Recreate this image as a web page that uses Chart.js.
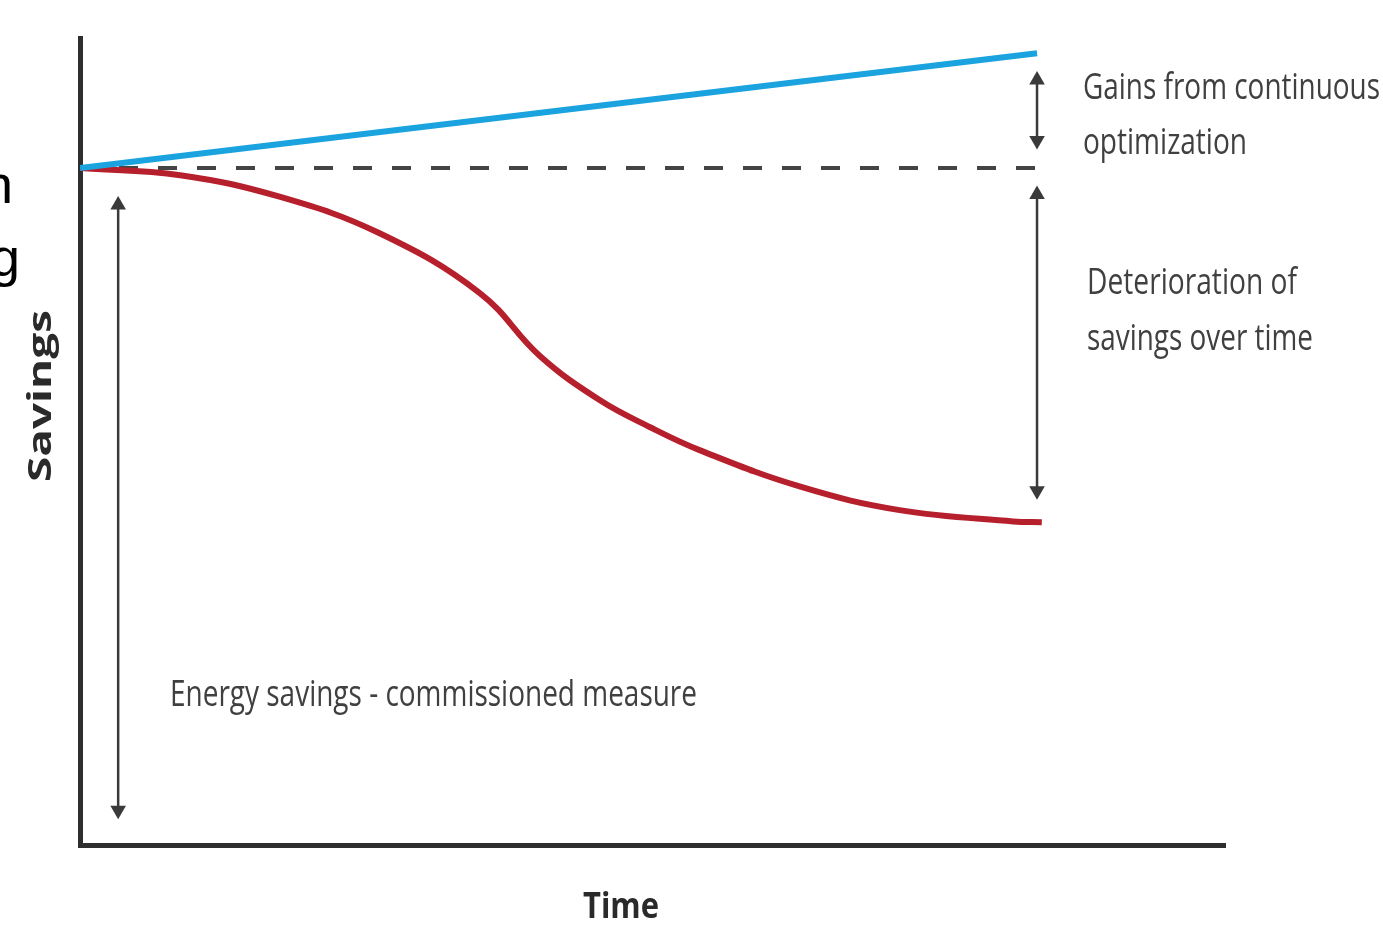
<!DOCTYPE html>
<html>
<head>
<meta charset="utf-8">
<title>Savings over time</title>
<script src="https://cdn.jsdelivr.net/npm/chart.js@4/dist/chart.umd.min.js"></script>
<style>
  html, body { margin: 0; padding: 0; background: #fff; }
  #wrap { position: relative; width: 1383px; height: 925px; }
</style>
</head>
<body>
<div id="wrap"><canvas id="savingsChart"></canvas></div>
<script>
// Savings curves (time on x, savings level on y)
const baseLevel = 83.9;
const endTime = 100.3;

const optimizedTime = [0, endTime];
const optimizedSavings = [baseLevel, 98.1];

const commissionedTime = [0, endTime];
const commissionedSavings = [baseLevel, baseLevel];

const decayTime = [0, 10.5, 21.0, 31.4, 41.9, 48.2, 54.5, 59.7, 65.0, 75.5, 85.9, 97.8, 100.8];
const decaySavings = [83.9, 83.0, 80.3, 75.8, 68.4, 60.6, 55.1, 51.8, 48.9, 44.4, 41.5, 40.1, 40.0];

// Dimension arrows: [time, top, bottom]
const energyArrow = [4, 79.3, 4.3];
const gainsArrow = [endTime, 94.8, 87.3];
const decayArrow = [endTime, 80.6, 43.9];

function toPoints(xs, ys) {
    return xs.map((x, i) => ({ x: x, y: ys[i] }));
}

function arrowDataset(a) {
    return {
        data: [{ x: a[0], y: a[1] }, { x: a[0], y: a[2] }],
        borderColor: '#3a3a3a',
        backgroundColor: '#3a3a3a',
        borderWidth: 2.5,
        pointStyle: 'triangle',
        pointRadius: 9,
        pointRotation: [0, 180],
        pointBorderWidth: 0,
        order: 5
    };
}

// Draw text squeezed horizontally to a given width
function fitText(ctx, text, x, y, width, font, color) {
    ctx.save();
    ctx.font = font;
    ctx.fillStyle = color;
    ctx.textBaseline = 'middle';
    ctx.textAlign = 'left';
    const w = ctx.measureText(text).width;
    const s = width / w;
    ctx.translate(x, y);
    ctx.scale(s, 1);
    ctx.fillText(text, 0, 0);
    ctx.restore();
}

const labelPlugin = {
    id: 'labels',
    afterDraw(chart) {
        const ctx = chart.ctx;
        const grey = '#404040';
        const f = "36px 'Open Sans', sans-serif";
        fitText(ctx, 'Gains from continuous', 1083, 89, 297, f, grey);
        fitText(ctx, 'optimization', 1083, 144, 164, f, grey);
        fitText(ctx, 'Deterioration of', 1087, 284, 210, f, grey);
        fitText(ctx, 'savings over time', 1087, 340, 226, f, grey);
        fitText(ctx, 'Energy savings - commissioned measure', 170, 696, 527, f, grey);

        // axis titles
        fitText(ctx, 'Time', 583, 908, 76, "bold 36px 'Open Sans', sans-serif", '#2a2a2a');
        ctx.save();
        ctx.translate(42, 482);
        ctx.rotate(-Math.PI / 2);
        fitText(ctx, 'Savings', 0, 0, 172, "bold 32px 'Open Sans', sans-serif", '#2a2a2a');
        ctx.restore();

        // fragments of neighbouring text at the left edge
        ctx.save();
        ctx.font = "54px 'Liberation Sans', Arial, sans-serif";
        ctx.fillStyle = '#000';
        ctx.textAlign = 'right';
        ctx.textBaseline = 'alphabetic';
        ctx.fillText('n', 13, 203);
        ctx.fillText('g', 20, 276);
        ctx.restore();
    }
};

const ctx = document.getElementById('savingsChart').getContext('2d');
const chart = new Chart(ctx, {
    type: 'line',
    data: {
        datasets: [
            {
                data: toPoints(optimizedTime, optimizedSavings),
                borderColor: '#1aa3df',
                borderWidth: 6,
                pointRadius: 0,
                borderCapStyle: 'butt',
                order: 1
            },
            {
                data: toPoints(decayTime, decaySavings),
                borderColor: '#b61f2c',
                borderWidth: 6,
                pointRadius: 0,
                tension: 0.4,
                order: 2
            },
            {
                data: toPoints(commissionedTime, commissionedSavings),
                borderColor: '#444',
                borderWidth: 4,
                borderDash: [19, 20],
                pointRadius: 0,
                order: 3
            },
            arrowDataset(energyArrow),
            arrowDataset(gainsArrow),
            arrowDataset(decayArrow)
        ]
    },
    options: {
        responsive: true,
        maintainAspectRatio: false,
        animation: false,
        layout: {
            padding: { left: 80, right: 158, top: 38, bottom: 80 }
        },
        plugins: {
            legend: { display: false },
            tooltip: { enabled: false }
        },
        scales: {
            x: {
                type: 'linear',
                min: 0,
                max: 120,
                grid: { display: false, drawTicks: false },
                ticks: { display: false },
                border: { color: '#2e2e2e', width: 5 }
            },
            y: {
                min: 0,
                max: 100,
                grid: { display: false, drawTicks: false },
                ticks: { display: false },
                border: { color: '#2e2e2e', width: 5 }
            }
        }
    },
    plugins: [labelPlugin]
});
</script>
</body>
</html>
